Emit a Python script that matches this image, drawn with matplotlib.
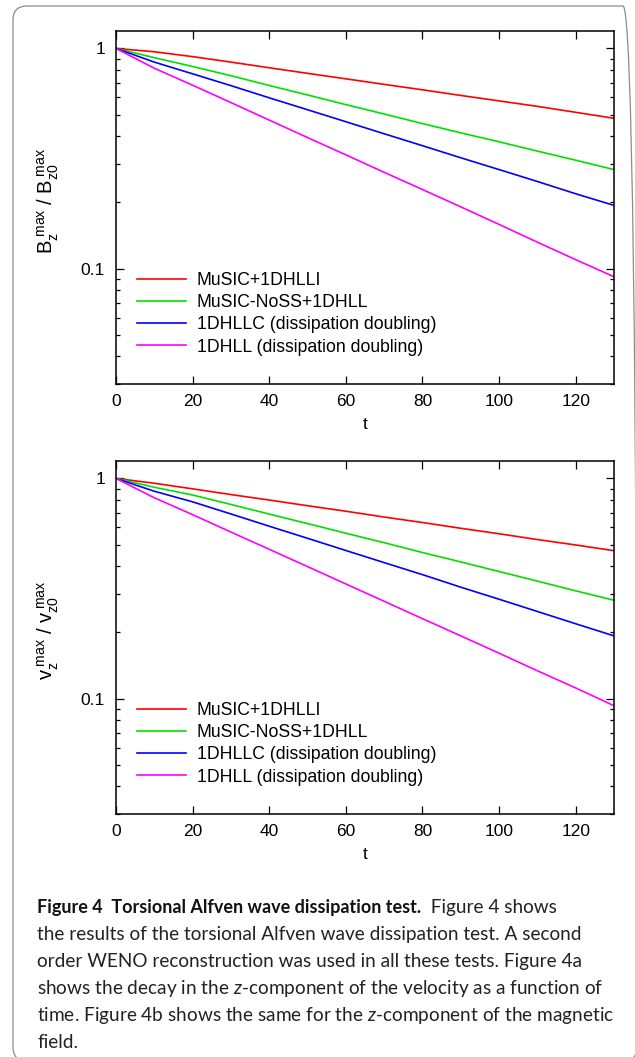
import matplotlib
matplotlib.use("Agg")
import matplotlib.pyplot as plt
from matplotlib.patches import FancyBboxPatch
from matplotlib.transforms import IdentityTransform
from matplotlib.ticker import FixedLocator, LogLocator, NullFormatter

# time samples
t = [0, 10, 20, 30, 40, 50, 60, 70, 80, 90, 100, 110, 120, 130]

# top panel: Bz max / Bz0 max
bz_music = [1, 0.966, 0.918, 0.867, 0.817, 0.771, 0.728, 0.687, 0.649, 0.612, 0.578, 0.546, 0.513, 0.482]
bz_nosss = [1, 0.908, 0.828, 0.752, 0.679, 0.615, 0.556, 0.504, 0.456, 0.414, 0.377, 0.342, 0.311, 0.282]
bz_hllc = [1, 0.867, 0.767, 0.678, 0.597, 0.527, 0.465, 0.410, 0.362, 0.319, 0.282, 0.249, 0.219, 0.194]
bz_hll = [1, 0.813, 0.681, 0.568, 0.473, 0.394, 0.329, 0.274, 0.229, 0.191, 0.159, 0.132, 0.110, 0.092]

# bottom panel: vz max / vz0 max
vz_music = [1, 0.951, 0.897, 0.845, 0.798, 0.752, 0.710, 0.668, 0.631, 0.594, 0.561, 0.528, 0.499, 0.470]
vz_nosss = [1, 0.912, 0.841, 0.762, 0.689, 0.624, 0.564, 0.511, 0.461, 0.418, 0.378, 0.342, 0.309, 0.280]
vz_hllc = [1, 0.875, 0.783, 0.690, 0.607, 0.535, 0.471, 0.415, 0.366, 0.321, 0.283, 0.249, 0.219, 0.193]
vz_hll = [1, 0.817, 0.685, 0.571, 0.477, 0.398, 0.332, 0.277, 0.231, 0.193, 0.161, 0.134, 0.112, 0.093]

labels = ["MuSIC+1DHLLI", "MuSIC-NoSS+1DHLL",
          "1DHLLC (dissipation doubling)", "1DHLL (dissipation doubling)"]
colors = ["#ff0000", "#00e000", "#0000ff", "#ff00ff"]

plt.rcParams["font.family"] = ["Liberation Sans", "DejaVu Sans"]
plt.rcParams["mathtext.fontset"] = "custom"
plt.rcParams["mathtext.rm"] = "Lato"
plt.rcParams["mathtext.it"] = "Lato:italic"

fig = plt.figure(figsize=(6.35, 10.57), dpi=100)
W, H = 635, 1057

# rounded frame around the whole figure
frame = FancyBboxPatch((13, -4), 624, 1055, boxstyle="round,pad=0,rounding_size=14",
                       transform=IdentityTransform(), fill=False, ec="#8c8c8c", lw=0.9)
fig.patches.append(frame)


def panel(top_px, series, ylabel):
    left, right, bottom = 116, 614, top_px + 353
    ax = fig.add_axes([left / W, 1 - bottom / H, (right - left) / W, 353 / H])
    for y, c, lab in zip(series, colors, labels):
        ax.plot(t, y, color=c, lw=1.2, label=lab)
    ax.set_yscale("log")
    ax.set_xlim(0, 130)
    ax.set_ylim(0.03, 1.2)
    ax.xaxis.set_major_locator(FixedLocator([0, 20, 40, 60, 80, 100, 120]))
    ax.yaxis.set_major_locator(FixedLocator([0.1, 1]))
    ax.set_yticklabels(["0.1", "1"])
    ax.yaxis.set_minor_locator(LogLocator(base=10, subs=[2, 3, 4, 5, 6, 7, 8, 9]))
    ax.yaxis.set_minor_formatter(NullFormatter())
    ax.tick_params(which="both", direction="in", top=True, right=True, width=0.9,
                   labelsize=12.5, color="black")
    ax.tick_params(which="major", length=6)
    ax.tick_params(which="minor", length=3)
    ax.tick_params(axis="y", pad=8)
    ax.tick_params(axis="x", pad=7)
    for s in ax.spines.values():
        s.set_linewidth(1.1)
    ax.set_xlabel("t", fontsize=12.5)
    ax.xaxis.label.set_va("center")
    ax.xaxis.set_label_coords(0.5, -0.116)
    ax.set_ylabel(ylabel, fontsize=14.5)
    ax.yaxis.label.set_va("center")
    ax.yaxis.set_label_coords(-0.137, 0.52)
    ax.legend(loc="upper left", bbox_to_anchor=(0.042, 0.318), frameon=False,
              fontsize=12.7, handlelength=2.8, handletextpad=0.6, labelspacing=0.3,
              borderpad=0, borderaxespad=0)
    return ax


panel(31, [bz_music, bz_nosss, bz_hllc, bz_hll],
      r"$\mathregular{B_z^{\ max}\ /\ B_{z0}^{\ max}}$")
panel(461, [vz_music, vz_nosss, vz_hllc, vz_hll],
      r"$\mathregular{v_z^{\ max}\ /\ v_{z0}^{\ max}}$")

# caption
cap_font = ["Lato", "DejaVu Sans"]
x0 = 37 / W
base = 913
step = 27
t1 = fig.text(x0, 1 - base / H, "Figure 4  Torsional Alfven wave dissipation test.",
              fontsize=13, fontweight="bold", family=cap_font, va="baseline",
              color="#111111")
fig.add_artist(plt.Annotation("  Figure 4 shows", xy=(1, 0), xycoords=t1, va="bottom",
                              fontsize=13.7, family=cap_font, color="#222222"))
lines = [
    "the results of the torsional Alfven wave dissipation test. A second",
    "order WENO reconstruction was used in all these tests. Figure 4a",
    r"shows the decay in the $z$-component of the velocity as a function of",
    r"time. Figure 4b shows the same for the $z$-component of the magnetic",
    "field.",
]
for i, line in enumerate(lines):
    fig.text(x0, 1 - (base + step * (i + 1)) / H, line, fontsize=13.7,
             family=cap_font, va="baseline", color="#222222")

fig.savefig("out.png", dpi=100)
